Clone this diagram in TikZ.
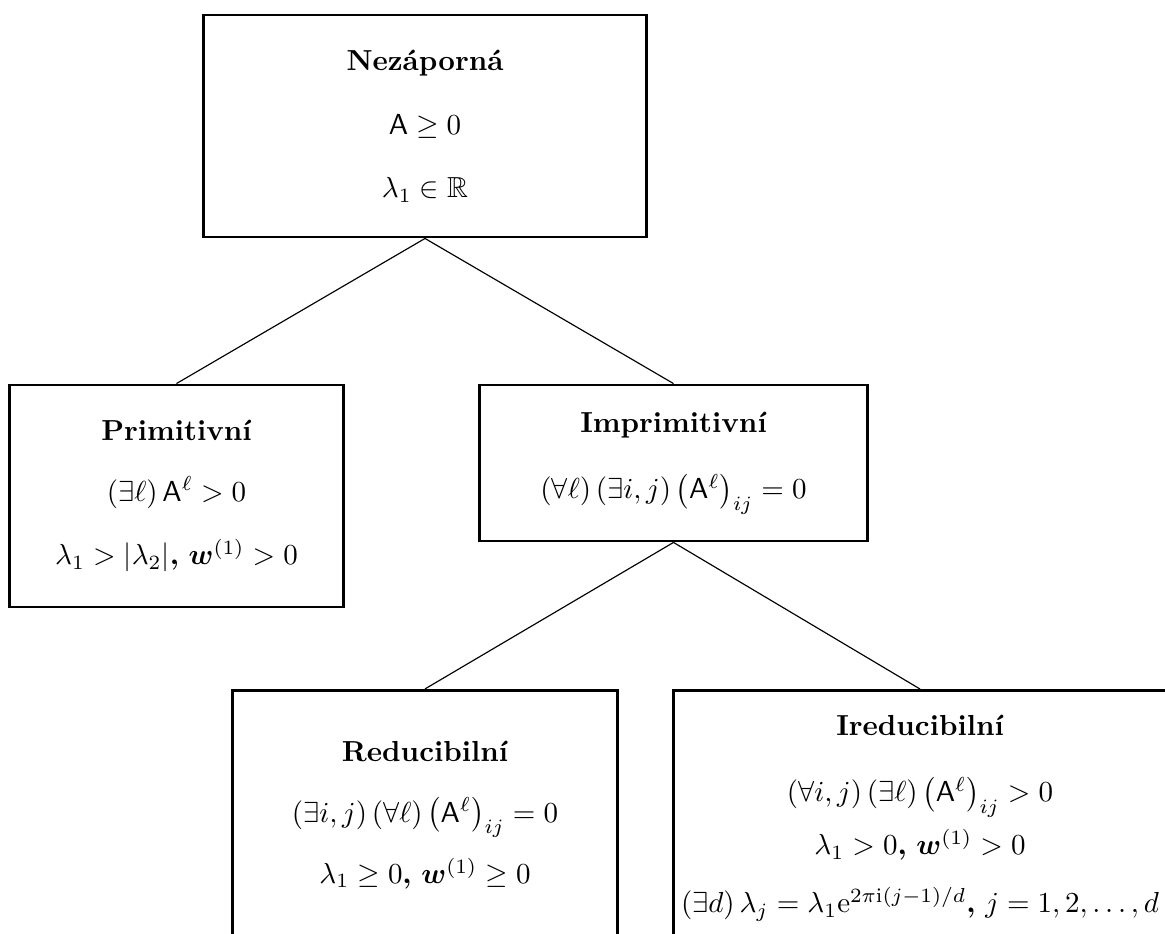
\documentclass[tikz,border=0pt]{standalone}
\usepackage{amsmath,amssymb}
\begin{document}
\begin{tikzpicture}[x=0.345pt,y=-0.345pt,
  box/.style={draw,line width=1pt,align=center,inner sep=0pt},
  edge/.style={line width=0.4pt}]
\useasboundingbox (0,0) rectangle (1165,933);
\node[box,minimum width=153pt,minimum height=76.6pt] (nez) at (425,126)
  {\textbf{Nezáporná}\\[10pt]
   $\mathsf{A}\ge 0$\\[10pt]
   $\lambda_1\in\mathbb{R}$};
\node[box,minimum width=115pt,minimum height=76.6pt] (prim) at (176.5,496)
  {\textbf{Primitivní}\\[9pt]
   $(\exists\ell)\,\mathsf{A}^\ell>0$\\[10pt]
   $\lambda_1>|\lambda_2|\boldsymbol{,}\ \boldsymbol{w}^{(1)}>0$};
\node[box,minimum width=134pt,minimum height=53.8pt] (imp) at (673.5,463)
  {\textbf{Imprimitivní}\\[11pt]
   $(\forall\ell)\,(\exists i,j)\,\bigl(\mathsf{A}^\ell\bigr)_{ij}=0$};
\node[box,minimum width=133pt,minimum height=86pt] (red) at (425,815)
  {\textbf{Reducibilní}\\[9pt]
   $(\exists i,j)\,(\forall\ell)\,\bigl(\mathsf{A}^\ell\bigr)_{ij}=0$\\[6pt]
   $\lambda_1\ge 0\boldsymbol{,}\ \boldsymbol{w}^{(1)}\ge 0$};
\node[box,minimum width=170pt,minimum height=88pt] (ired) at (920,818)
  {\textbf{Ireducibilní}\\[11pt]
   $(\forall i,j)\,(\exists\ell)\,\bigl(\mathsf{A}^\ell\bigr)_{ij}>0$\\[3pt]
   $\lambda_1>0\boldsymbol{,}\ \boldsymbol{w}^{(1)}>0$\\[8pt]
   $(\exists d)\,\lambda_j=\lambda_1\mathrm{e}^{2\pi\mathrm{i}(j-1)/d}\boldsymbol{,}\ j=1,2,\dots,d$};
\draw[edge] (nez.south) -- (prim.north);
\draw[edge] (nez.south) -- (imp.north);
\draw[edge] (imp.south) -- (red.north);
\draw[edge] (imp.south) -- (ired.north);
\end{tikzpicture}
\end{document}
